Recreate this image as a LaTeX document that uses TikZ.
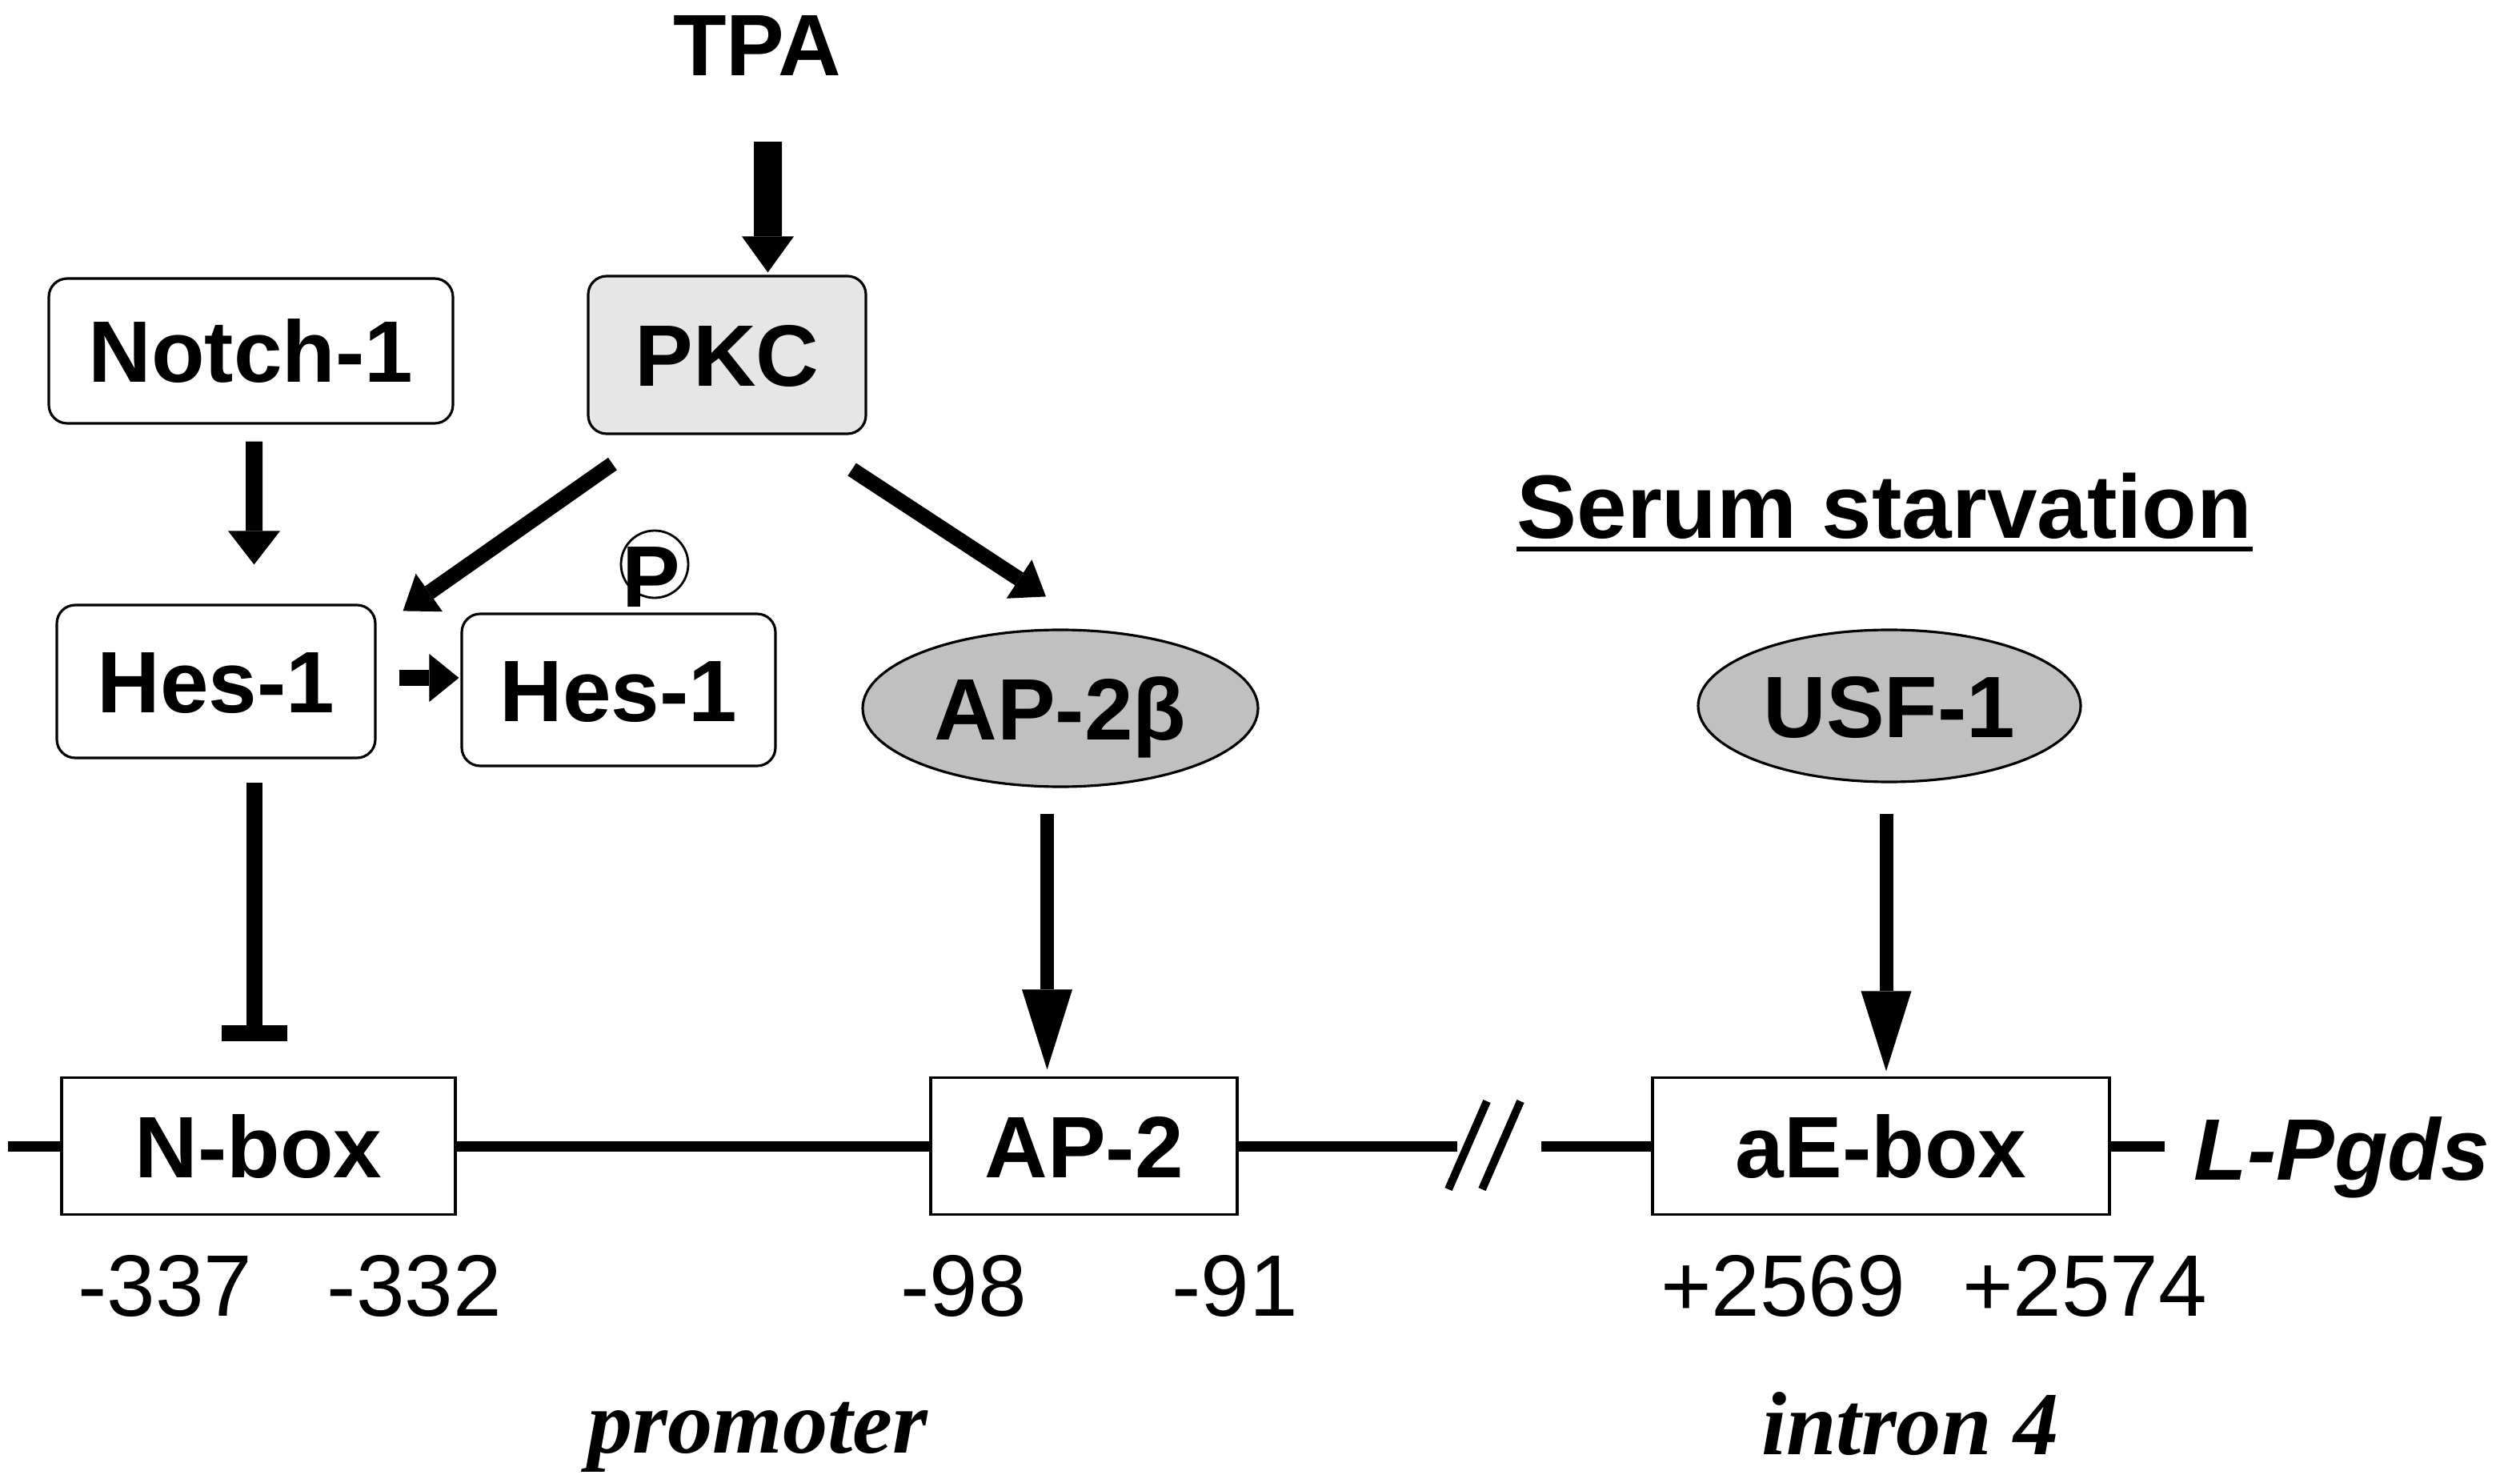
\documentclass[tikz,border=0pt]{standalone}
\usepackage{fontspec}
\setmainfont{Liberation Sans}
\newfontfamily\genefont{Liberation Serif}
\usetikzlibrary{%
	arrows.meta,%
	shapes.geometric
}
\definecolor{kinase}{HTML}{E6E6E6}
\definecolor{factor}{HTML}{C0C0C0}
\newcommand{\labelsize}{\fontsize{31}{35}\selectfont}

\begin{document}
\begin{tikzpicture}
		[lab/.style={font=\labelsize\bfseries,inner sep=0pt,text height=22.2pt,text depth=0pt},
		rbox/.style={lab,draw,line width=0.9pt,rounded corners=2.3mm},
		site/.style={lab,draw,line width=0.9pt,fill=white,minimum height=1.71cm},
		tf/.style={lab,ellipse,draw,line width=0.9pt,fill=factor},
		bpnum/.style={font=\labelsize,inner sep=0pt,anchor=base},
		region/.style={font=\genefont\bfseries\itshape\fontsize{32}{36}\selectfont,inner sep=0pt,anchor=base},
		fat/.style={line width=3.5mm,-{Triangle[width=6.5mm,length=4.5mm,line width=0pt]}},
		act/.style={line width=2.1mm,-{Triangle[width=6.5mm,length=4.2mm,line width=0pt]}},
		diag/.style={line width=1.9mm,-{Triangle[width=5.8mm,length=4mm,line width=0pt]}},
		bind/.style={line width=1.7mm,-{Triangle[width=6.3mm,length=10mm,line width=0pt]}},
		inhib/.style={line width=2mm,-{Bar[width=8.2mm]}},
		dna/.style={line width=1.3mm}
		]
		
		\fill[white] (0,0) rectangle (31.49,18.52);
		\useasboundingbox (0,0) rectangle (31.49,18.52);
		
		% signalling
		\node[lab] (tpa) at (9.46,17.965) {TPA};
		\node[rbox,minimum width=5.05cm,minimum height=1.81cm] (notch) at (3.135,14.135) {Notch-1};
		\node[rbox,fill=kinase,minimum width=3.47cm,minimum height=1.97cm] (pkc) at (9.085,14.085) {PKC};
		\node[rbox,minimum width=3.98cm,minimum height=1.91cm] (hesA) at (2.70,10.005) {Hes-1};
		\node[rbox,minimum width=3.92cm,minimum height=1.90cm] (hesB) at (7.73,9.90) {Hes-1};
		\node[draw,circle,line width=0.8pt,inner sep=0pt,minimum size=0.84cm] (pring) at (8.18,11.47) {};
		\node[lab] (pletter) at (8.14,11.33) {P};
		\node[tf,minimum width=4.94cm,minimum height=1.96cm] (ap2b) at (13.25,9.67) {AP-2β};
		
		\node[lab,font=\fontsize{32}{36}\selectfont\bfseries,anchor=base] (serum) at (23.55,11.79) {Serum starvation};
		\draw[line width=0.6mm] ([yshift=-1.3mm]serum.base west) -- ([yshift=-1.3mm]serum.base east);
		\node[tf,minimum width=4.78cm,minimum height=1.90cm] (usf) at (23.61,9.70) {USF-1};
		
		\draw[fat,shorten <=8.2mm,shorten >=0.3mm] ([xshift=1.35mm]tpa.south) -- ([xshift=5.1mm]pkc.north);
		\draw[act,shorten <=2.1mm,shorten >=4.9mm] ([xshift=0.4mm]notch.south) -- ([xshift=4.75mm]hesA.north);
		\draw[diag] ([xshift=3.2mm,yshift=-3.6mm]pkc.south west) -- ([xshift=3.3mm,yshift=-0.9mm]hesA.north east);
		\draw[diag] ([xshift=-1.9mm,yshift=-4.3mm]pkc.south east) -- ([xshift=-1.8mm,yshift=4mm]ap2b.north);
		\draw[act,line width=2mm,-{Triangle[width=6mm,length=3.7mm,line width=0pt]},shorten <=2.8mm,shorten >=0.2mm]
			([yshift=0.45mm]hesA.east) -- ([yshift=0.45mm]hesA.east -| hesB.west);
		
		% gene
		\node[site,minimum width=4.92cm] (nbox) at (3.23,4.2) {N-box};
		\node[site,minimum width=3.83cm] (ap2) at (13.545,4.2) {AP-2};
		\node[site,minimum width=5.71cm] (aebox) at (23.505,4.2) {aE-box};
		\coordinate (dnaL) at (0.10,4.2);
		\coordinate (cutL) at (18.21,4.2);
		\coordinate (cutR) at (19.26,4.2);
		\coordinate (dnaR) at (27.05,4.2);
		\draw[dna] (dnaL) -- (nbox.west) (nbox.east) -- (ap2.west) (ap2.east) -- (cutL)
			(cutR) -- (aebox.west) (aebox.east) -- (dnaR);
		\draw[line width=1mm] (18.10,3.66) -- (18.58,4.76) (18.52,3.66) -- (19.00,4.76);
		\node[font=\labelsize\bfseries\itshape,inner sep=0pt,anchor=base west] (lpgds) at (27.41,3.78) {L-Pgds};
		
		\draw[inhib,shorten <=2.9mm,shorten >=4.35mm] ([xshift=4.8mm]hesA.south) -- ([xshift=4.8mm]hesA.south |- nbox.north);
		\draw[bind,shorten <=3.2mm,shorten >=0.85mm] ([xshift=-1.65mm]ap2b.south) -- ([xshift=-1.65mm]ap2b.south |- ap2.north);
		\draw[bind,shorten <=3.8mm,shorten >=0.65mm] ([xshift=-0.4mm]usf.south) -- ([xshift=-0.4mm]usf.south |- aebox.north);
		
		% positions
		\node[bpnum] (p337) at (2.065,2.08) {-337};
		\node[bpnum] (p332) at (5.18,2.08) {-332};
		\node[bpnum] (p98) at (12.04,2.08) {-98};
		\node[bpnum] (p91) at (15.43,2.08) {-91};
		\node[bpnum] (p2569) at (22.28,2.08) {+2569};
		\node[bpnum] (p2574) at (26.05,2.08) {+2574};
		
		\node[region] (prom) at (9.47,0.37) {promoter};
		\node[region] (intr) at (23.87,0.35) {intron 4};
	\end{tikzpicture}
\end{document}
